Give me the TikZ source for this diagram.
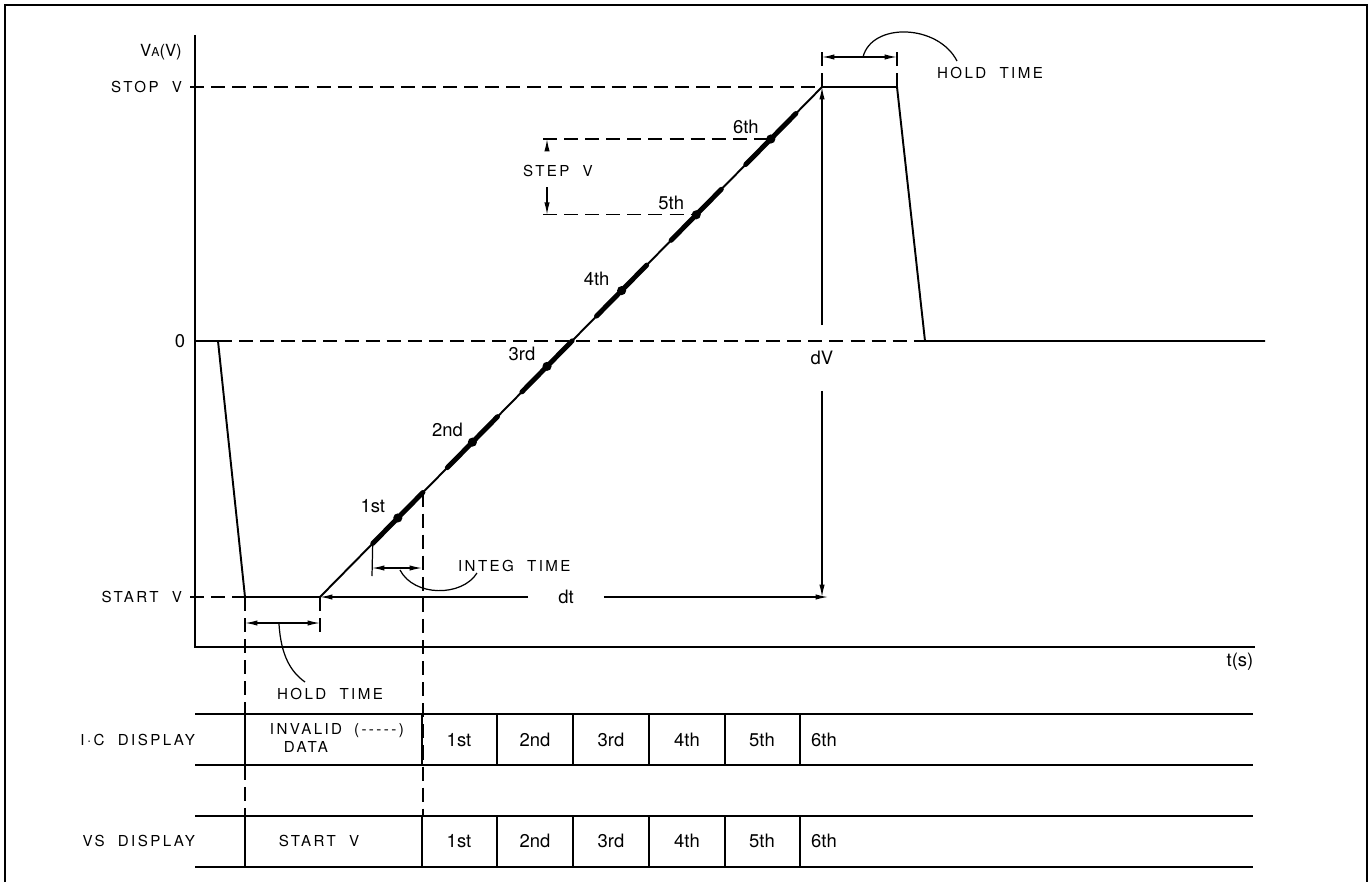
\documentclass[tikz,border=0pt]{standalone}
\usepackage{fontspec}
\setmainfont{TeX Gyre Heros}
\newfontfamily\lettering[LetterSpace=16]{TeX Gyre Heros}
\usetikzlibrary{arrows.meta,calc}

\tikzset{
  axis/.style={line width=1.4pt},
  wave/.style={line width=1.1pt},
  guide/.style={line width=0.7pt, dash pattern=on 8pt off 4pt},
  integ/.style={line width=2.8pt, line cap=round},
  dim/.style={<->, line width=0.7pt},
  arr/.style={->, line width=0.7pt},
  cell/.style={line width=0.9pt},
  caps/.style={font=\lettering\fontsize{8.6}{10.5}\selectfont, inner sep=1pt},
  ord/.style={font=\fontsize{10.5}{12}\selectfont, inner sep=1pt},
}

\begin{document}
\begin{tikzpicture}[x=0.02cm, y=-0.02cm, >={Latex[length=7pt,width=3pt]}]
  \useasboundingbox (0,0) rectangle (1371,882);
  % frame, open at the bottom
  \draw[line width=1.1pt] (5,882) -- (5,5) -- (1367,5) -- (1367,882);

  % axes
  \coordinate (org) at (195,647);
  \coordinate (ytop) at (195,35);
  \coordinate (xend) at (1255,647);
  \draw[axis] (ytop) -- (org) -- (xend);
  \node[font=\fontsize{9.5}{11}\selectfont, anchor=east] (vlab) at (188,52) {V{\fontsize{7}{8}\selectfont A}(V)};
  \node[ord] (tlab) at (1240,662) {t(s)};

  % levels
  \node[caps, anchor=east] (stopv) at (184,87) {STOP\ \ V};
  \node[ord] (zlab) at (180,341) {0};
  \node[caps, anchor=east] (startv) at (184,597) {START\ \ V};
  \coordinate (ystop) at (190,87);
  \coordinate (ystart) at (190,597);

  % waveform
  \coordinate (z0) at (195,341);
  \coordinate (z1) at (218,341);
  \coordinate (s0) at (245,597);
  \coordinate (s1) at (320,597);
  \coordinate (p0) at (822,87);
  \coordinate (p1) at (897,87);
  \coordinate (z2) at (925,341);
  \coordinate (z3) at (1265,341);
  \draw[wave] (z0) -- (z1) -- (s0) -- (s1) -- (p0) -- (p1) -- (z2) -- (z3);
  \draw[guide] (ystop) -- (p0);
  \draw[guide] (ystart) -- (s0);

  % integration windows on the ramp
  \foreach \k/\lab in {1/1st,2/2nd,3/3rd,4/4th,5/5th,6/6th} {
    \pgfmathsetmacro\tm{0.155+0.1486*(\k-1)}
    \pgfmathsetmacro\ta{\tm-0.05}
    \pgfmathsetmacro\tb{\tm+0.05}
    \draw[integ] ($(s1)!\ta!(p0)$) -- ($(s1)!\tb!(p0)$);
    \coordinate (m\k) at ($(s1)!\tm!(p0)$);
    \fill (m\k) circle (2.6pt);
    \node[ord] (l\k) at ($(m\k)+(-25,-12)$) {\lab};
  }
  \coordinate (ia) at ($(s1)!0.105!(p0)$);
  \coordinate (ib) at ($(s1)!0.205!(p0)$);

  % dV and dt
  \coordinate (dvb) at (822,597);
  \node[ord, minimum height=1.3cm] (dvn) at (822,358) {dV};
  \draw[arr] (dvn.north) -- (p0);
  \draw[arr] (dvn.south) -- (dvb);
  \draw[guide] (z1) -- (z2);
  \coordinate (dtb) at (828,597);
  \node[ord, minimum width=1.5cm] (dtn) at (566,597) {dt};
  \draw[arr] (dtn.west) -- (s1);
  \draw[arr] (dtn.east) -- (dtb);

  % step V
  \coordinate (svx) at (543,0);
  \coordinate (sva) at (547,150);
  \coordinate (svb) at (547,187);
  \draw[guide] (m6 -| svx) -- (m6);
  \draw[guide] (m5 -| svx) -- (m5);
  \draw[arr] (sva) -- (sva |- m6);
  \draw[arr] (svb) -- (svb |- m5);
  \node[caps] (stepv) at (558,171) {STEP\ \ V};

  % hold time at the top
  \coordinate (ht0) at (822,57);
  \coordinate (ht1) at (897,57);
  \draw[guide] (p0) -- (822,50);
  \draw[guide] (p1) -- (897,50);
  \draw[dim] (ht0) -- (ht1);
  \node[caps, anchor=west] (htl) at (935,73) {HOLD\ \ TIME};
  \draw[line width=0.7pt] (863,57) .. controls (872,22) and (938,24) .. (957,61);

  % hold time at the bottom
  \coordinate (hb0) at (245,623);
  \coordinate (hb1) at (320,623);
  \draw[guide] (s1) -- (320,632);
  \draw[dim] (hb0) -- (hb1);
  \node[caps] (hbl) at (330,694) {HOLD\ \ TIME};
  \draw[line width=0.7pt] (279,624) .. controls (281,656) and (291,672) .. (305,682);

  % integ time
  \coordinate (it0) at (372,568);
  \coordinate (it1) at (422,568);
  \draw[line width=0.7pt] (ia) -- (372,576);
  \draw[dim] (it0) -- (it1);
  \node[caps, anchor=west] (itl) at (456,566) {INTEG\ \ TIME};
  \draw[line width=0.7pt] (400,570) .. controls (414,597) and (462,597) .. (477,573);

  % dashed drop lines to the displays
  \draw[guide] (s0) -- (245,816);
  \draw[guide] (ib) -- (ib |- 0,816);

  % display rows
  \foreach \y in {714,765,816,867}
    \draw[cell] (195,\y) -- (1253,\y);
  \foreach \x in {245,422,497,573,649,725,800} {
    \draw[cell] (\x,714) -- (\x,765);
    \draw[cell] (\x,816) -- (\x,867);
  }
  \node[caps, anchor=east] (icd) at (197,740) {I·C\ \ DISPLAY};
  \node[caps, anchor=east] (vsd) at (197,841) {VS\ \ DISPLAY};
  \node[caps, align=center] (inv) at (306,738) {INVALID\\DATA};
  \node[caps, anchor=west] (invd) at (352,731) {(-{}-{}-{}-{}-)};
  \node[caps] (stv) at (319,841) {START\ \ V};
  \foreach \x/\lab [count=\i] in {459/1st,535/2nd,611/3rd,687/4th,762/5th,824/6th} {
    \node[ord] (ic\i) at (\x,740) {\lab};
    \node[ord] (vs\i) at (\x,841) {\lab};
  }
\end{tikzpicture}
\end{document}
